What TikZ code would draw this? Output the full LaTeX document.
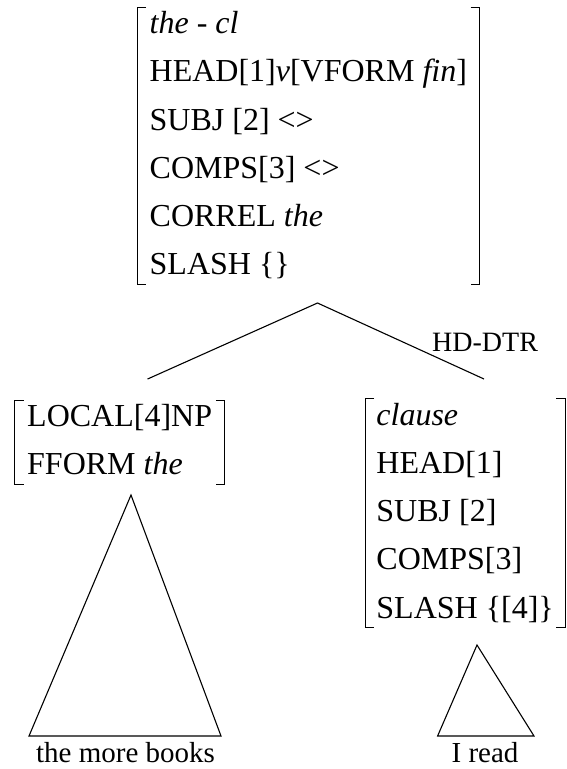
\documentclass[tikz,border=0pt]{standalone}
\usepackage{fontspec}
\setmainfont{Liberation Serif}
\newcommand{\avmstrut}{\rule[-7pt]{0pt}{31pt}}
\begin{document}
\begin{tikzpicture}[
		x=1pt, y=-1pt,
		avm/.style={anchor=north west, align=left, inner xsep=12.5pt, inner ysep=2.5pt,
			font=\fontsize{32}{48.2}\selectfont},
		bracket/.style={line width=0.9pt},
		branch/.style={line width=1.1pt, line join=miter},
		lbl/.style={anchor=base, inner sep=0pt, font=\fontsize{29}{34}\selectfont}
		]
		\useasboundingbox (0,0) rectangle (567,769);
		% feature structures
		\node[avm] (mother) at (137,7) {\avmstrut\textit{the - cl}\\
			\avmstrut HEAD[1]\textit{v}[VFORM \textit{fin}]\\
			\avmstrut SUBJ [2] <>\\
			\avmstrut COMPS[3] <>\\
			\avmstrut CORREL \textit{the}\\
			\avmstrut SLASH \{\}};
		\node[avm] (filler) at (14.5,400) {\avmstrut LOCAL[4]NP\\
			\avmstrut FFORM \textit{the}};
		\node[avm, anchor=north east, inner xsep=11pt] (head) at (565,398.5) {\avmstrut\textit{clause}\\
			\avmstrut HEAD[1]\\
			\avmstrut SUBJ [2]\\
			\avmstrut COMPS[3]\\
			\avmstrut SLASH \{[4]\}};
		\foreach \n in {mother,filler,head} {
			\draw[bracket] ([xshift=9pt]\n.north west) -- (\n.north west) -- (\n.south west) -- ([xshift=9pt]\n.south west);
			\draw[bracket] ([xshift=-9pt]\n.north east) -- (\n.north east) -- (\n.south east) -- ([xshift=-9pt]\n.south east);
		}
		% branches
		\coordinate (top) at (317.5,303);
		\coordinate (lfoot) at (147.6,379);
		\coordinate (rfoot) at (484,379);
		\draw[branch] (lfoot) -- (top) -- (rfoot);
		\node[lbl, anchor=base west, font=\fontsize{28}{34}\selectfont] (hd) at (432,351) {HD-DTR};
		% triangles
		\coordinate (ltop) at (131,495);
		\coordinate (lleft) at (29,736);
		\coordinate (lright) at (221,736);
		\coordinate (rtop) at (477,645);
		\coordinate (rleft) at (437.6,736);
		\coordinate (rright) at (534,736);
		\draw[branch] (ltop) -- (lleft) -- (lright) -- cycle;
		\draw[branch] (rtop) -- (rleft) -- (rright) -- cycle;
		\node[lbl] (lyield) at (125.5,762) {the more books};
		\node[lbl] (ryield) at (485,762) {I read};
	\end{tikzpicture}
\end{document}
